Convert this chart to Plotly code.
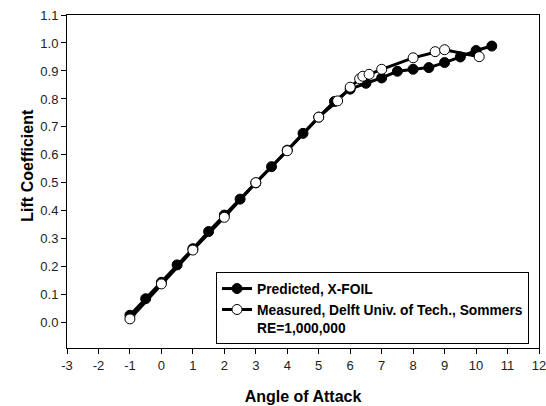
import plotly.graph_objects as go

# Predicted (X-FOIL)
pred_alpha = [-1.0, -0.5, 0.0, 0.5, 1.0, 1.5, 2.0, 2.5, 3.0, 3.5, 4.0, 4.5,
              5.0, 5.5, 6.0, 6.5, 7.0, 7.5, 8.0, 8.5, 9.0, 9.5, 10.0, 10.5]
pred_cl = [0.027, 0.086, 0.145, 0.207, 0.265, 0.326, 0.385, 0.442, 0.500, 0.558, 0.617, 0.677,
           0.735, 0.791, 0.835, 0.856, 0.875, 0.899, 0.906, 0.912, 0.930, 0.950, 0.973, 0.989]

# Measured (Delft, Sommers)
meas_alpha = [-1.0, 0.0, 1.0, 2.0, 3.0, 4.0, 5.0, 5.6, 6.0, 6.3, 6.4, 6.6, 7.0, 8.0, 8.7, 9.0, 10.1]
meas_cl = [0.014, 0.139, 0.260, 0.377, 0.501, 0.615, 0.735, 0.793, 0.842, 0.872, 0.881, 0.888,
           0.906, 0.947, 0.969, 0.976, 0.951]

x_ticks = list(range(-3, 13))
y_ticks = [round(0.1 * i, 1) for i in range(0, 12)]

fig = go.Figure()
fig.add_trace(go.Scatter(
    x=pred_alpha, y=pred_cl, mode="lines+markers",
    name="Predicted, X-FOIL",
    line=dict(color="black", width=3),
    marker=dict(symbol="circle", size=10, color="black", line=dict(color="black", width=1)),
))
fig.add_trace(go.Scatter(
    x=meas_alpha, y=meas_cl, mode="lines+markers",
    name="Measured, Delft Univ. of Tech., Sommers<br>RE=1,000,000",
    line=dict(color="black", width=3),
    marker=dict(symbol="circle", size=10, color="white", line=dict(color="black", width=1)),
))

axis_font = dict(family="Liberation Sans, Arial, sans-serif", size=13, color="#222")

fig.update_layout(
    width=546, height=406,
    margin=dict(l=67, r=7, t=15, b=58, autoexpand=False),
    paper_bgcolor="white", plot_bgcolor="white",
    font=dict(family="Liberation Sans, Arial, sans-serif", color="black"),
    showlegend=True,
    legend=dict(
        x=0.3157, y=0.228, xanchor="left", yanchor="top",
        bordercolor="black", borderwidth=1, bgcolor="white",
        font=dict(family="Liberation Sans, Arial, sans-serif", size=13.8, color="black", weight="bold"),
        valign="top", tracegroupgap=0,
    ),
    xaxis=dict(
        range=[-3, 12], tickvals=x_ticks, ticktext=[str(v) for v in x_ticks],
        showgrid=False, zeroline=False, automargin=False, ticklabeloverflow="allow",
        showline=True, linecolor="black", linewidth=1, mirror=True,
        ticks="outside", ticklen=5, tickcolor="black", tickwidth=1,
        tickfont=axis_font,
        title=dict(text="<b>Angle of Attack</b>", font=dict(size=16, color="black"), standoff=19),
    ),
    yaxis=dict(
        range=[-0.09, 1.1], tickvals=y_ticks, ticktext=[f"{v:.1f}" for v in y_ticks],
        showgrid=False, zeroline=False, automargin=False, ticklabeloverflow="allow",
        showline=True, linecolor="black", linewidth=1, mirror=True,
        ticks="outside", ticklen=5, tickcolor="black", tickwidth=1,
        tickfont=axis_font,
    ),
    annotations=[dict(
        text="<b>Lift Coefficient</b>", textangle=-90,
        xref="paper", yref="paper", x=-0.083, y=0.55,
        xanchor="center", yanchor="middle", showarrow=False,
        font=dict(size=16, color="black"),
    )],
)

fig.write_html(
    "out.html",
    config={"displayModeBar": False},
    post_script="document.body.style.margin='0';document.body.style.padding='0';document.body.style.overflow='hidden';",
)
